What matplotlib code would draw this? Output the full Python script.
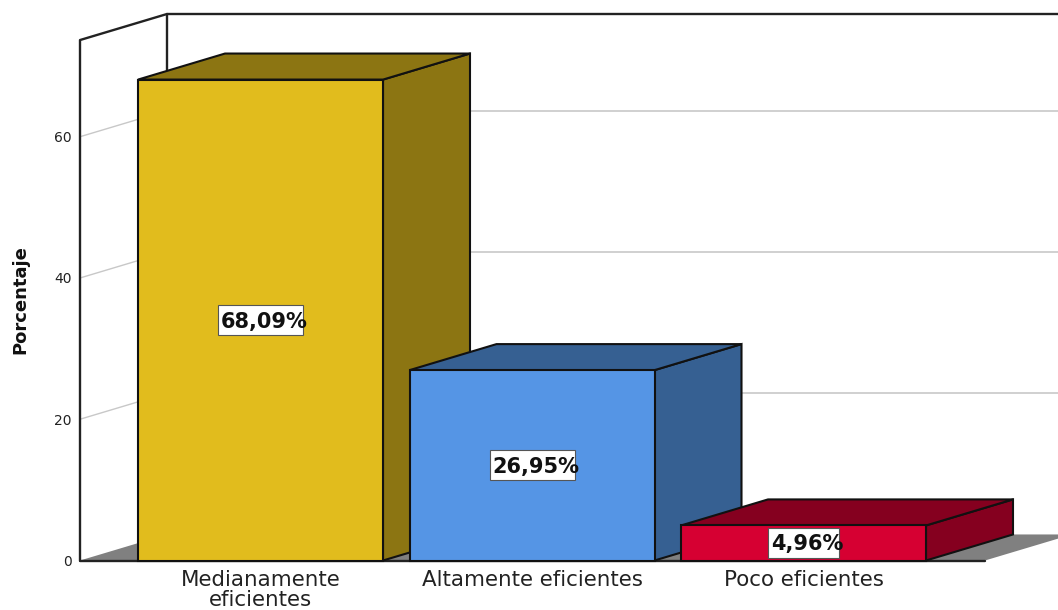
# Percentage bar chart with SPSS style 3d look

import matplotlib.pyplot as plt
from matplotlib.patches import Polygon, Rectangle

categories = ["Medianamente\neficientes", "Altamente eficientes", "Poco eficientes"]
values = [68.09, 26.95, 4.96]
labels = ["68,09%", "26,95%", "4,96%"]
y_ticks = [0, 20, 40, 60]

front_colors = ["#E1BC1D", "#5595E5", "#D60032"]
side_colors = ["#8C7512", "#366092", "#85001F"]

# pixel scale of the reference
px_x = 271.5
px_y = 7.05
bar_w = 245 / px_x
dx = 87 / px_x
dy = 26 / px_y

x_left = (80 - 260.5) / px_x
x_right = (1058 - 260.5) / px_x
x_floor = (985 - 260.5) / px_x
y_top = (560.5 - 41) / px_y

fig = plt.figure(figsize=(10.58, 6.10), dpi=100)
ax = fig.add_axes([80 / 1058, (610 - 560.5) / 610, (1058 - 80) / 1058, 546.5 / 610])
ax.set_xlim(x_left, x_right)
ax.set_ylim(0, y_top + dy)

for s in ax.spines.values():
    s.set_visible(False)

# floor
ax.add_patch(Polygon([(x_left, 0), (x_left + dx, dy), (x_floor + dx, dy), (x_floor, 0)],
                     facecolor="#808080", edgecolor="none", zorder=1))

# grid on side wall and back wall
for v in y_ticks[1:]:
    ax.plot([x_left, x_left + dx], [v, v + dy], color="#c8c8c8", lw=1.0, zorder=1.5)
    ax.plot([x_left + dx, x_right], [v + dy, v + dy], color="#c8c8c8", lw=1.2, zorder=1.5)

# wall outlines
wall = dict(color="#222222", lw=1.7, zorder=2, clip_on=False, solid_capstyle="round")
ax.plot([x_left, x_left, x_left + dx, x_right], [0, y_top, y_top + dy, y_top + dy], **wall)
ax.plot([x_left + dx, x_left + dx], [dy, y_top + dy], **wall)
ax.plot([x_left, x_floor], [0, 0], **wall)

# bars
for i in range(len(values)):
    v = values[i]
    x0 = i - bar_w / 2
    x1 = i + bar_w / 2
    z = 3 + i
    ax.add_patch(Polygon([(x1, 0), (x1 + dx, dy), (x1 + dx, v + dy), (x1, v)],
                         facecolor=side_colors[i], edgecolor="#111111", lw=1.5, zorder=z, clip_on=False))
    ax.add_patch(Polygon([(x0, v), (x0 + dx, v + dy), (x1 + dx, v + dy), (x1, v)],
                         facecolor=side_colors[i], edgecolor="#111111", lw=1.5, zorder=z, clip_on=False))
    ax.add_patch(Rectangle((x0, 0), bar_w, v, facecolor=front_colors[i],
                           edgecolor="#111111", lw=1.5, zorder=z, clip_on=False))

    # value label, text runs a bit over the box on the right
    box_w = (85 if len(labels[i]) > 5 else 71) / px_x
    box_h = 30 / px_y
    ax.add_patch(Rectangle((i - box_w / 2, v / 2 - box_h / 2), box_w, box_h, facecolor="white",
                           edgecolor="#555555", lw=0.8, zorder=z + 0.1))
    ax.text(i + 3.5 / px_x, v / 2 - 1.5 / px_y, labels[i], ha="center", va="center", fontsize=15,
            fontweight="bold", color="#111111", zorder=z + 0.2)

ax.set_xticks(range(len(categories)))
ax.set_xticklabels(categories, fontsize=15.4, color="#222222", linespacing=1.0)
ax.set_yticks(y_ticks)
ax.set_yticklabels([str(v) for v in y_ticks], fontsize=10, color="#222222")
ax.tick_params(axis="x", length=0, pad=7)
ax.tick_params(axis="y", length=0, pad=6)

ax.set_ylabel("Porcentaje", fontsize=13, fontweight="bold", color="#111111")
ax.yaxis.set_label_coords(-51 / 978, (560.5 - 300) / 546.5)

fig.savefig("out.png", dpi=100)
